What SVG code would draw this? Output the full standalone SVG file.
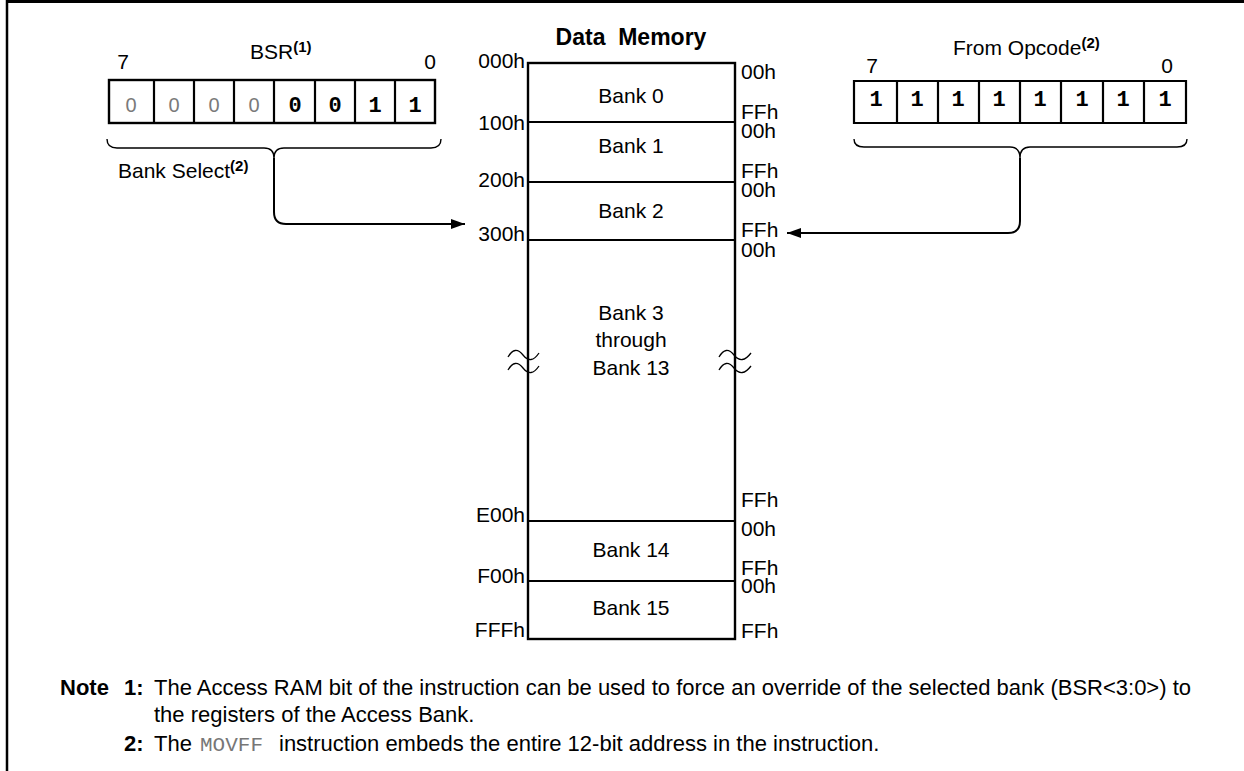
<svg xmlns="http://www.w3.org/2000/svg" width="1244" height="771" viewBox="0 0 1244 771">
<defs>
<style>
.t{font-family:"Liberation Sans",Arial,sans-serif;font-size:21px;fill:#000}
.b{font-weight:bold}
.m{text-anchor:middle}
.e{text-anchor:end}
.sup{font-family:"Liberation Sans",Arial,sans-serif;font-size:15px;font-weight:bold}
.mono{font-family:"Liberation Mono","Courier New",monospace;font-size:22px;text-anchor:middle}
.mg{font-family:"Liberation Sans",Arial,sans-serif;font-size:20px;font-weight:300;fill:#7a7a7a}
.mb{font-weight:bold;fill:#000}
.box{fill:#fff;stroke:#000;stroke-width:2.4}
.ln{stroke:#000;stroke-width:2.2;fill:none}
.br{stroke:#000;stroke-width:1.4;fill:none}
.sq{stroke:#000;stroke-width:1.3;fill:none}
.con{stroke:#000;stroke-width:2;fill:none}
.note{font-family:"Liberation Sans",Arial,sans-serif;font-size:22px;fill:#000}
</style>
<marker id="arr" markerWidth="14" markerHeight="10" refX="14" refY="5" orient="auto" markerUnits="userSpaceOnUse">
<path d="M0,0 L14,5 L0,10 Z" fill="#000"/>
</marker>
</defs>
<rect width="1244" height="771" fill="#fff"/>
<g id="frame">
<line x1="6" y1="1.5" x2="1244" y2="1.5" stroke="#000" stroke-width="3"/>
<line x1="7" y1="0" x2="7" y2="771" stroke="#000" stroke-width="2.5"/>
</g>

<g id="bsr">
<text class="t" x="250" y="59">BSR<tspan class="sup" dy="-7">(1)</tspan></text>
<text class="t m" x="123" y="69">7</text>
<text class="t m" x="430" y="69">0</text>
<rect class="box" x="109" y="80" width="326" height="43"/>
<path class="ln" d="M154,80V123M194,80V123M234,80V123M274,80V123M315,80V123M355,80V123M395,80V123"/>
<text class="mono mg" x="131" y="112">0</text>
<text class="mono mg" x="174" y="112">0</text>
<text class="mono mg" x="214" y="112">0</text>
<text class="mono mg" x="254" y="112">0</text>
<text class="mono mb" x="295" y="112">0</text>
<text class="mono mb" x="335" y="112">0</text>
<text class="mono mb" x="375" y="112">1</text>
<text class="mono mb" x="415" y="112">1</text>
<path class="br" d="M107,139 Q107,148 117,148 L264,148 Q274,148 274,158 Q274,148 284,148 L431,148 Q441,148 441,139"/>
<text class="t" x="118" y="178">Bank Select<tspan class="sup" dy="-7">(2)</tspan></text>
</g>

<g id="opcode">
<text class="t" x="953" y="55">From Opcode<tspan class="sup" dy="-7">(2)</tspan></text>
<text class="t m" x="872" y="73">7</text>
<text class="t m" x="1167" y="73">0</text>
<path class="ln" d="M1144,123H854V81H1186V123H1144V81M897,81V123M938,81V123M979,81V123M1020,81V123M1061,81V123M1103,81V123"/>
<text class="mono mb" x="876" y="106">1</text>
<text class="mono mb" x="917" y="106">1</text>
<text class="mono mb" x="958" y="106">1</text>
<text class="mono mb" x="999" y="106">1</text>
<text class="mono mb" x="1040" y="106">1</text>
<text class="mono mb" x="1082" y="106">1</text>
<text class="mono mb" x="1123" y="106">1</text>
<text class="mono mb" x="1165" y="106">1</text>
<path class="br" d="M854,139 Q854,147 864,147 L1010,147 Q1020,147 1020,158 Q1020,147 1030,147 L1177,147 Q1187,147 1187,139"/>
</g>

<g id="memory">
<text class="t b m" x="631" y="45" style="font-size:23px" xml:space="preserve">Data  Memory</text>
<rect class="box" x="528" y="63" width="207" height="576"/>
<path class="ln" d="M528,122H735M528,182H735M528,240H735M528,521H735M528,581H735"/>
<text class="t m" x="631" y="103">Bank 0</text>
<text class="t m" x="631" y="153">Bank 1</text>
<text class="t m" x="631" y="218">Bank 2</text>
<text class="t m" x="631" y="320">Bank 3</text>
<text class="t m" x="631" y="347">through</text>
<text class="t m" x="631" y="375">Bank 13</text>
<text class="t m" x="631" y="557">Bank 14</text>
<text class="t m" x="631" y="615">Bank 15</text>
<path class="sq" d="M508,357 Q515,345 523,355 T539,353 M508,370 Q515,358 523,368 T539,366"/>
<path class="sq" d="M719,357 Q726,345 734,355 T751,353 M719,370 Q726,358 734,368 T751,366"/>
<text class="t e" x="525" y="68">000h</text>
<text class="t e" x="525" y="130">100h</text>
<text class="t e" x="525" y="187">200h</text>
<text class="t e" x="525" y="241">300h</text>
<text class="t e" x="525" y="522">E00h</text>
<text class="t e" x="525" y="583">F00h</text>
<text class="t e" x="525" y="637">FFFh</text>
<text class="t" x="741" y="79">00h</text>
<text class="t" x="741" y="119">FFh</text>
<text class="t" x="741" y="138">00h</text>
<text class="t" x="741" y="178">FFh</text>
<text class="t" x="741" y="197">00h</text>
<text class="t" x="741" y="237">FFh</text>
<text class="t" x="741" y="257">00h</text>
<text class="t" x="741" y="507">FFh</text>
<text class="t" x="741" y="536">00h</text>
<text class="t" x="741" y="575">FFh</text>
<text class="t" x="741" y="593">00h</text>
<text class="t" x="741" y="638">FFh</text>
</g>

<g id="connectors">
<path class="con" d="M274,158 V212 Q274,224 286,224 H465" marker-end="url(#arr)"/>
<path class="con" d="M1020,158 V221 Q1020,233 1008,233 H787" marker-end="url(#arr)"/>
</g>

<g id="notes">
<text class="note b" x="60" y="695">Note</text>
<text class="note b" x="124" y="695">1:</text>
<text class="note" x="154" y="695">The Access RAM bit of the instruction can be used to force an override of the selected bank (BSR&lt;3:0&gt;) to</text>
<text class="note" x="154" y="722">the registers of the Access Bank.</text>
<text class="note b" x="124" y="751">2:</text>
<text class="note" x="154" y="751">The</text>
<text x="200" y="751" style="font-family:'Liberation Mono','Courier New',monospace;font-size:21px;fill:#777">MOVFF</text>
<text class="note" x="279" y="751">instruction embeds the entire 12-bit address in the instruction.</text>
</g>
</svg>
